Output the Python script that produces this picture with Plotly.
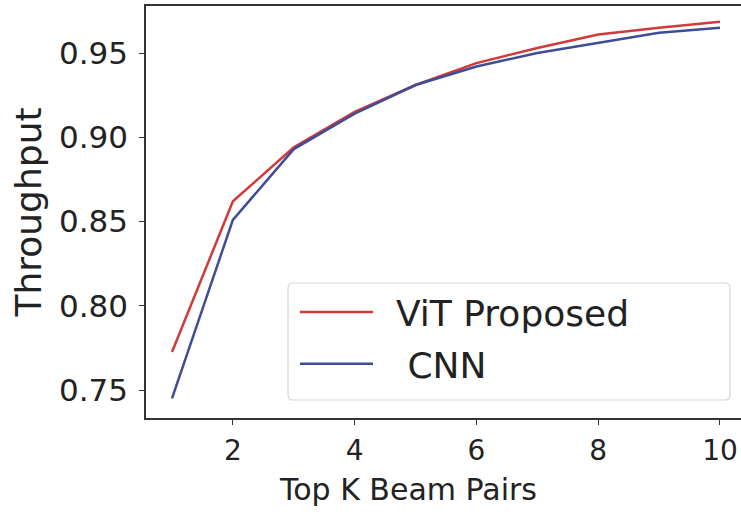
import plotly.graph_objects as go

k = [1, 2, 3, 4, 5, 6, 7, 8, 9, 10]
vit = [0.7726, 0.862, 0.894, 0.915, 0.931, 0.944, 0.953, 0.961, 0.965, 0.9685]
cnn = [0.745, 0.851, 0.893, 0.914, 0.931, 0.942, 0.950, 0.956, 0.962, 0.965]
x_ticks = [2, 4, 6, 8, 10]
y_ticks = [0.75, 0.80, 0.85, 0.90, 0.95]

W, H = 741, 512
L, R, T, B = 146, 0, 6, 94
pw, ph = W - L - R, H - T - B


def px_x(p):
    return (p - L) / pw


def px_y(p):
    return (H - B - p) / ph


def rounded_box(x0, y0, x1, y1, r):
    pts = []
    X = lambda v: "%.5f" % px_x(v)
    Y = lambda v: "%.5f" % px_y(v)
    return (f"M {X(x0 + r)},{Y(y0)} L {X(x1 - r)},{Y(y0)} Q {X(x1)},{Y(y0)} {X(x1)},{Y(y0 + r)} "
            f"L {X(x1)},{Y(y1 - r)} Q {X(x1)},{Y(y1)} {X(x1 - r)},{Y(y1)} "
            f"L {X(x0 + r)},{Y(y1)} Q {X(x0)},{Y(y1)} {X(x0)},{Y(y1 - r)} "
            f"L {X(x0)},{Y(y0 + r)} Q {X(x0)},{Y(y0)} {X(x0 + r)},{Y(y0)} Z")


fig = go.Figure()
fig.add_trace(go.Scatter(x=k, y=vit, mode="lines", name="\u2002ViT Proposed",
                         legendgroup="a",
                         line=dict(color="#d03a3a", width=2.5)))
fig.add_trace(go.Scatter(x=k, y=cnn, mode="lines", name="\u2002 CNN",
                         legendgroup="b",
                         line=dict(color="#3f4c96", width=2.5)))

font_family = "DejaVu Sans"
fig.update_layout(
    width=W, height=H,
    margin=dict(l=L, r=R, t=T, b=B),
    paper_bgcolor="white", plot_bgcolor="white",
    font=dict(family=font_family, color="#222222"),
    showlegend=True,
    legend=dict(x=px_x(295), y=px_y(282), xanchor="left", yanchor="top",
                bgcolor="rgba(0,0,0,0)", borderwidth=0,
                font=dict(size=36, family=font_family, color="#222222"),
                itemwidth=73, traceorder="grouped", tracegroupgap=2),
    xaxis=dict(range=[0.573, 10.345], tickvals=x_ticks,
               ticktext=[str(v) for v in x_ticks],
               showgrid=False, zeroline=False, automargin=False,
               showline=True, linecolor="#333333", linewidth=1.5, mirror=True,
               ticks="outside", ticklen=5, tickcolor="#333333",
               tickfont=dict(size=28), ticklabelstandoff=2),
    yaxis=dict(range=[0.7334, 0.9779], tickvals=y_ticks,
               ticktext=["%.2f" % v for v in y_ticks],
               showgrid=False, zeroline=False, automargin=False,
               showline=True, linecolor="#333333", linewidth=1.5, mirror=False,
               ticks="outside", ticklen=5, tickcolor="#333333",
               tickfont=dict(size=31), ticklabelstandoff=5,
               title=dict(text="Throughput", font=dict(size=36), standoff=6)),
    shapes=[dict(type="path", xref="paper", yref="paper",
                 path=rounded_box(288, 283, 730, 400, 5),
                 line=dict(color="#d6d6d6", width=1.2), fillcolor="rgba(255,255,255,0.8)",
                 layer="below")],
    annotations=[dict(text="Top K Beam Pairs", xref="paper", yref="paper",
                      x=px_x(408), y=px_y(490), xanchor="center", yanchor="middle",
                      showarrow=False, font=dict(size=30, family=font_family, color="#222222"))],
)

fig.write_html("out.html",
               config={"displayModeBar": False},
               post_script="document.body.style.margin='0';document.body.style.overflow='hidden';")
